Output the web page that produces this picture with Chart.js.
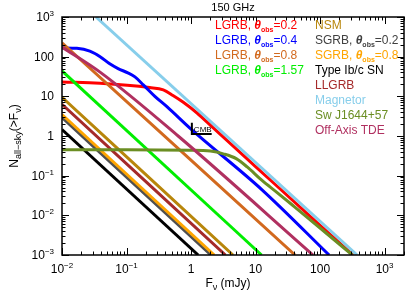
<!DOCTYPE html>
<html>
<head>
<meta charset="utf-8">
<script src="https://cdn.jsdelivr.net/npm/chart.js@4.4.1/dist/chart.umd.min.js"></script>
<style>
  html, body { margin: 0; padding: 0; background: #fff; }
  #wrap { width: 415px; height: 297px; }
</style>
</head>
<body>
<div id="wrap"><canvas id="chart" width="415" height="297"></canvas></div>
<script>
// axis ranges and tick labels
const xMin = 0.01, xMax = 2000;
const yMin = 0.001, yMax = 1000;
const xTicks = [0.01, 0.1, 1, 10, 100, 1000];
const xTickBase = ['10', '10', '1', '10', '100', '10'];
const xTickExp = ['-2', '-1', '', '', '', '3'];
const yTicks = [0.001, 0.01, 0.1, 1, 10, 100, 1000];
const yTickBase = ['10', '10', '10', '1', '10', '100', '10'];
const yTickExp = ['-3', '-2', '-1', '', '', '', '3'];

// series (F in mJy, N all-sky)
const lgrb02F = [0.01, 0.039, 0.229, 0.372, 0.525, 0.759, 1.24, 2.19, 10, 100, 324];
const lgrb02N = [22.9, 21.4, 16.6, 14.5, 10.5, 7.08, 3.8, 1.62, 0.17, 0.0056, 0.001];
const lgrb04F = [0.01, 0.017, 0.027, 0.039, 0.055, 0.074, 0.105, 0.135, 0.182, 0.275, 0.427, 0.96, 12.6, 138];
const lgrb04N = [166, 162, 138, 100, 66, 50, 39, 30.9, 19.5, 10, 5.4, 1.58, 0.044, 0.001];
const lgrb08F = [0.01, 40.9];
const lgrb08N = [224, 0.001];
const lgrb157F = [0.01, 12.4];
const lgrb157N = [43.6, 0.001];
const nsmF = [0.01, 4.47];
const nsmN = [9.44, 0.001];
const sgrb02F = [0.01, 2.04];
const sgrb02N = [2.92, 0.001];
const sgrb08F = [0.01, 2.29];
const sgrb08N = [3.47, 0.001];
const ibcF = [0.01, 1.29];
const ibcN = [1.46, 0.001];
const llgrbF = [0.01, 3.41];
const llgrbN = [6.31, 0.001];
const magnetarF = [0.0336, 375];
const magnetarN = [1000, 0.001];
const swF = [0.01, 0.1, 1, 2, 3.16, 5.01, 7.41, 12.6, 21.4, 39.8, 100, 316];
const swN = [0.447, 0.447, 0.44, 0.417, 0.355, 0.269, 0.166, 0.0759, 0.038, 0.0166, 0.0048, 0.001];
const tdeF = [0.01, 0.0389, 0.631, 77.8];
const tdeN = [174, 40.7, 1.0, 0.001];

// CMB marker
const cmbF = [1.03, 2.09];
const cmbN = [2.17, 1.13];

const FONT = '"Liberation Sans", Arial, sans-serif';

function pts(F, N) {
  return F.map((f, i) => ({ x: f, y: N[i] }));
}

// name, colour, data
const series = [
  { name: 'LGRB 0.2', color: '#ff0000', data: pts(lgrb02F, lgrb02N) },
  { name: 'LGRB 0.4', color: '#0000ff', data: pts(lgrb04F, lgrb04N) },
  { name: 'LGRB 0.8', color: '#d2691e', data: pts(lgrb08F, lgrb08N) },
  { name: 'LGRB 1.57', color: '#00ee00', data: pts(lgrb157F, lgrb157N) },
  { name: 'NSM', color: '#b8860b', data: pts(nsmF, nsmN) },
  { name: 'SGRB 0.2', color: '#505050', data: pts(sgrb02F, sgrb02N) },
  { name: 'SGRB 0.8', color: '#ffa500', data: pts(sgrb08F, sgrb08N) },
  { name: 'Type Ib/c SN', color: '#000000', data: pts(ibcF, ibcN) },
  { name: 'LLGRB', color: '#a52a2a', data: pts(llgrbF, llgrbN) },
  { name: 'Magnetor', color: '#87ceeb', data: pts(magnetarF, magnetarN) },
  { name: 'Sw J1644+57', color: '#6b8e23', data: pts(swF, swN) },
  { name: 'Off-Axis TDE', color: '#b03060', data: pts(tdeF, tdeN) }
];

// legend rows: left column with theta, right column plain
const legendLeft = [
  { c: '#ff0000', v: '=0.2' },
  { c: '#0000ff', v: '=0.4' },
  { c: '#d2691e', v: '=0.8' },
  { c: '#00ee00', v: '=1.57' }
];
const legendRight = [
  { c: '#b8860b', t: 'NSM' },
  { c: '#404040', t: 'SGRB, ', v: '=0.2' },
  { c: '#ffa500', t: 'SGRB, ', v: '=0.8' },
  { c: '#000000', t: 'Type Ib/c SN' },
  { c: '#a52a2a', t: 'LLGRB' },
  { c: '#87ceeb', t: 'Magnetor' },
  { c: '#6b8e23', t: 'Sw J1644+57' },
  { c: '#b03060', t: 'Off-Axis TDE' }
];

// draw a run of text pieces with own fonts and offsets
function drawRich(ctx, parts, x, y, align, color) {
  let total = 0;
  parts.forEach(p => {
    ctx.font = p.font;
    p.w = ctx.measureText(p.t).width;
    total += p.w;
  });
  let cx = align === 'center' ? x - total / 2 : align === 'right' ? x - total : x;
  ctx.textAlign = 'left';
  ctx.textBaseline = 'alphabetic';
  parts.forEach(p => {
    ctx.font = p.font;
    ctx.fillStyle = color;
    ctx.fillText(p.t, cx, y + (p.dy || 0));
    cx += p.w;
  });
}

function tickParts(base, exp) {
  const parts = [{ t: base, font: '12px ' + FONT }];
  if (exp) parts.push({ t: exp.replace('-', '\u2212'), font: '8px ' + FONT, dy: -5 });
  return parts;
}

function thetaParts(prefix, value) {
  return [
    { t: prefix, font: '12px ' + FONT },
    { t: '\u03b8', font: 'bold italic 12px ' + FONT },
    { t: 'obs', font: 'bold 7px ' + FONT, dy: 3 },
    { t: value, font: '12px ' + FONT }
  ];
}

// frame, inward ticks, labels and annotations
const framePlugin = {
  id: 'frame',
  afterDatasetsDraw(chart) {
    const { ctx, chartArea: a, scales } = chart;
    const xs = scales.x, ys = scales.y;
    ctx.save();

    // frame
    ctx.strokeStyle = '#000';
    ctx.lineWidth = 1.5;
    ctx.strokeRect(a.left, a.top, a.right - a.left, a.bottom - a.top);

    // ticks on all four sides
    ctx.lineWidth = 1;
    ctx.beginPath();
    for (let d = -2; d <= 3; d++) {
      for (let m = 1; m <= 9; m++) {
        const v = m * Math.pow(10, d);
        if (v < xMin || v > xMax) continue;
        const px = Math.round(xs.getPixelForValue(v)) + 0.5;
        const len = m === 1 ? 7 : 3.5;
        ctx.moveTo(px, a.bottom); ctx.lineTo(px, a.bottom - len);
        ctx.moveTo(px, a.top); ctx.lineTo(px, a.top + len);
      }
    }
    for (let d = -3; d <= 3; d++) {
      for (let m = 1; m <= 9; m++) {
        const v = m * Math.pow(10, d);
        if (v < yMin || v > yMax) continue;
        const py = Math.round(ys.getPixelForValue(v)) + 0.5;
        const len = m === 1 ? 7 : 3.5;
        ctx.moveTo(a.left, py); ctx.lineTo(a.left + len, py);
        ctx.moveTo(a.right, py); ctx.lineTo(a.right - len, py);
      }
    }
    ctx.stroke();

    // tick labels
    xTicks.forEach((v, i) => {
      drawRich(ctx, tickParts(xTickBase[i], xTickExp[i]), xs.getPixelForValue(v), a.bottom + 18, 'center', '#000');
    });
    yTicks.forEach((v, i) => {
      drawRich(ctx, tickParts(yTickBase[i], yTickExp[i]), a.left - 8, ys.getPixelForValue(v) + 4, 'right', '#000');
    });

    // titles
    drawRich(ctx, [{ t: '150 GHz', font: '11px ' + FONT }], (a.left + a.right) / 2, 11, 'center', '#000');
    drawRich(ctx, [
      { t: 'F', font: '12px ' + FONT },
      { t: '\u03bd', font: '9px ' + FONT, dy: 3 },
      { t: ' (mJy)', font: '12px ' + FONT }
    ], 228, 287, 'center', '#000');
    ctx.save();
    ctx.translate(18, (a.top + a.bottom) / 2);
    ctx.rotate(-Math.PI / 2);
    drawRich(ctx, [
      { t: 'N', font: '12px ' + FONT },
      { t: 'all\u2212sky', font: '9px ' + FONT, dy: 3 },
      { t: '(>F', font: '12px ' + FONT },
      { t: '\u03bd', font: '9px ' + FONT, dy: 3 },
      { t: ')', font: '12px ' + FONT }
    ], 0, 0, 'center', '#000');
    ctx.restore();

    // legend text
    legendLeft.forEach((r, i) => {
      drawRich(ctx, thetaParts('LGRB, ', r.v), 215, 28.5 + i * 15.1, 'left', r.c);
    });
    legendRight.forEach((r, i) => {
      const parts = r.v ? thetaParts(r.t, r.v) : [{ t: r.t, font: '12px ' + FONT }];
      drawRich(ctx, parts, 315, 28.5 + i * 15.1, 'left', r.c);
    });

    // CMB marker
    const cx0 = xs.getPixelForValue(cmbF[0]);
    const cx1 = xs.getPixelForValue(cmbF[1]);
    const cy0 = ys.getPixelForValue(cmbN[0]);
    const cy1 = ys.getPixelForValue(cmbN[1]);
    ctx.strokeStyle = '#000';
    ctx.lineWidth = 2;
    ctx.beginPath();
    ctx.moveTo(cx0, cy0); ctx.lineTo(cx0, cy1); ctx.lineTo(cx1, cy1);
    ctx.stroke();
    drawRich(ctx, [{ t: 'CMB', font: '8px ' + FONT }], cx0 + 2, cy1 - 2, 'left', '#000');

    ctx.restore();
  }
};

function initChart() {
  const ctx = document.getElementById('chart').getContext('2d');
  new Chart(ctx, {
    type: 'scatter',
    data: {
      datasets: series.map((s, i) => ({
        label: s.name,
        data: s.data,
        showLine: true,
        borderColor: s.color,
        backgroundColor: s.color,
        borderWidth: 3,
        pointRadius: 0,
        cubicInterpolationMode: 'monotone',
        clip: 0,
        order: series.length - i
      }))
    },
    options: {
      responsive: false,
      animation: false,
      layout: { padding: { left: 62, right: 11, top: 17, bottom: 42 } },
      plugins: { legend: { display: false }, tooltip: { enabled: false } },
      scales: {
        x: { type: 'logarithmic', min: xMin, max: xMax, display: false },
        y: { type: 'logarithmic', min: yMin, max: yMax, display: false }
      }
    },
    plugins: [framePlugin]
  });
}

initChart();
</script>
</body>
</html>
